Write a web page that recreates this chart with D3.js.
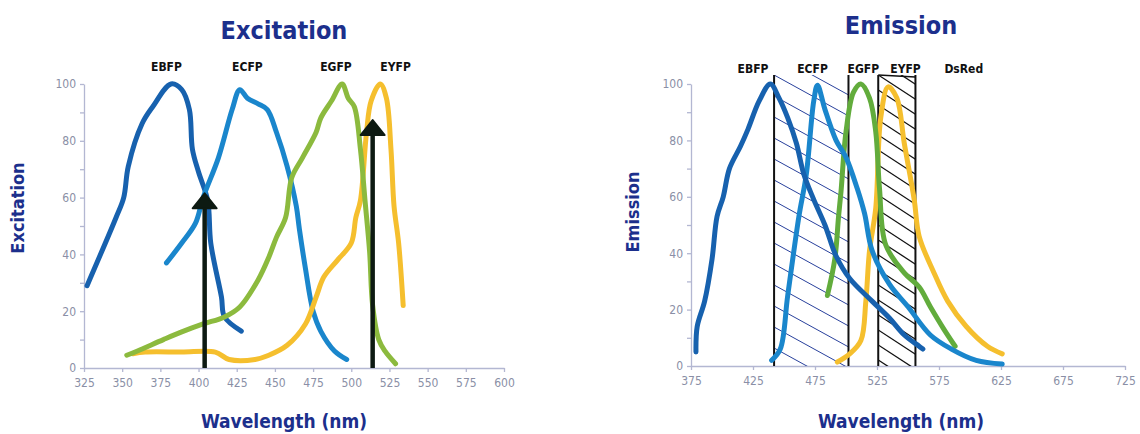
<!DOCTYPE html>
<html>
<head>
<meta charset="utf-8">
<script src="https://cdn.jsdelivr.net/npm/d3@7"></script>
<style>
  body { margin: 0; background: #fff; }
  svg { display: block; }
  .ttl { font-family: "Liberation Sans Narrow", "Arial Narrow", "DejaVu Sans Condensed", sans-serif; font-weight: bold; fill: #1c2f8c; }
  .tick text { font-family: "Liberation Sans Narrow", "DejaVu Sans Condensed", sans-serif; fill: #8a8fa6; font-size: 12px; }
  .tick line, .domain { stroke: #b3b7d2; stroke-width: 1.3; }
  .lbl { font-family: "Liberation Sans Narrow", "DejaVu Sans Condensed", sans-serif; font-weight: bold; font-size: 12px; fill: #111; }
</style>
</head>
<body>
<script>
// donnees : [longueur d'onde nm, valeur %]
const exEBFP = [[327,29],[346,53],[351,60],[354,71],[363,86],[370,92],[382,100],[389,98],[394,91],[396,77],[400,69],[406,59],[408,44],[415,25],[417,18],[428,13]];
const exECFP = [[379,37],[389,44],[398,51],[403,60],[413,74],[422,91],[427,98],[432,95],[439,93],[445,91],[451,83],[458,71],[464,57],[466,49],[470,35],[475,20],[480,13],[489,6],[497,3]];
const exEGFP = [[353,4.5],[360,6],[377,10],[389,12.7],[403,15.5],[417,18],[427,21.5],[439,31],[446,39],[451,46],[457,53],[461,67],[468,74],[477,83],[480,88],[487,94],[494,100],[498,95],[502,92],[506,77],[509,59],[512,41],[514,22],[518,10],[522,6],[529,1.5]];
const exEYFP = [[357,5],[365,5.6],[389,5.6],[411,5.6],[420,3],[437,3],[446,4.5],[458,8],[470,15.5],[477,25],[482,32],[491,38],[500,44],[503,53],[506,59],[510,83],[513,94],[519,100],[523,95],[526,77],[528,57],[531,44],[534,22]];

const emEBFP = [[379,5],[380,14],[386,23],[392,38],[396,53],[401,60],[406,70],[415,78],[421,84],[430,94],[439,100],[446,95],[453,88],[460,79],[466,68],[474,59],[483,50],[492,39],[503,31],[521,23],[535,17],[547,11],[559,7],[562,6]];
const emECFP = [[440,2],[447,6],[453,25],[462,53],[468,68],[474,94],[477,99.6],[483,91],[492,80],[500,74],[509,63],[515,54],[521,41],[535,29],[550,21],[568,11],[585,6],[605,2],[626,0.7]];
const emEGFP = [[485,25],[491,38],[494,53],[496,62],[500,83],[506,97],[512,100],[519,95],[524,83],[527,63],[532,43],[547,33],[559,28],[568,21],[579,13],[588,7]];
const emEYFP = [[493,1.4],[503,4.3],[512,9],[516,23],[519,41],[524,56],[528,88],[534,99],[541,95],[547,79],[555,59],[559,46],[571,33],[582,23],[597,14],[614,7],[626,4.3]];

const exArrows = [[404, 61.5], [514, 87.3]]; // fleches noires (nm, pointe)
const emBands = [[442, 502], [526, 556]];     // zones hachurees (nm)

const exLabels = ["EBFP", "ECFP", "EGFP", "EYFP"];
const exLabelNm = [379, 432, 490, 529];
const emLabels = ["EBFP", "ECFP", "EGFP", "EYFP", "DsRed"];
const emLabelNm = [425, 473, 514, 548, 595];

const exTicks = d3.range(325, 601, 25);
const emTicks = d3.range(375, 726, 50);
const yTicks = d3.range(0, 101, 10);

const colEBFP = "#1761ae", colECFP = "#1a86cc", colEGFPex = "#8cba3e", colEGFPem = "#62ac3c", colEYFP = "#f5bf2e";

//////////////////////////////////////////////////////////////////////////////
const svg = d3.select("body").append("svg")
  .attr("width", 1140)
  .attr("height", 434);

function drawPanel(opt) {
  const x = d3.scaleLinear().domain(opt.xDomain).range(opt.xRange);
  const y = d3.scaleLinear().domain([0, 100]).range(opt.yRange);
  const g = svg.append("g");

  // axes
  g.append("g")
    .attr("transform", `translate(0,${y(0)})`)
    .call(d3.axisBottom(x).tickValues(opt.xTicks).tickSize(4).tickSizeOuter(0).tickPadding(6));
  g.append("g")
    .attr("transform", `translate(${x(opt.xDomain[0])},0)`)
    .call(d3.axisLeft(y).tickValues(yTicks).tickSize(4).tickSizeOuter(0).tickPadding(4)
      .tickFormat(d => d % 20 === 0 ? d : ""));

  opt.extra && opt.extra(g, x, y);

  const line = d3.line()
    .x(d => x(d[0]))
    .y(d => y(d[1]))
    .curve(d3.curveCatmullRom.alpha(0.5));

  opt.series.forEach(s => {
    g.append("path")
      .datum(s.data)
      .attr("d", line)
      .attr("fill", "none")
      .attr("stroke", s.color)
      .attr("stroke-width", 5)
      .attr("stroke-linecap", "round")
      .attr("stroke-linejoin", "round");
  });

  opt.after && opt.after(g, x, y);

  // noms des proteines
  g.selectAll(".lbl")
    .data(opt.labels)
    .enter()
    .append("text")
    .attr("class", "lbl")
    .attr("x", (d, i) => x(opt.labelNm[i]))
    .attr("y", opt.labelY)
    .attr("text-anchor", "middle")
    .text(d => d);

  // titres
  g.append("text").attr("class", "ttl")
    .attr("x", opt.titleX).attr("y", opt.titleY)
    .attr("text-anchor", "middle").attr("font-size", 25)
    .text(opt.title);
  g.append("text").attr("class", "ttl")
    .attr("x", opt.titleX).attr("y", opt.xTitleY)
    .attr("text-anchor", "middle").attr("font-size", 19)
    .text("Wavelength (nm)");
  g.append("text").attr("class", "ttl")
    .attr("transform", `translate(${opt.yTitleX},${opt.yTitleY}) rotate(-90)`)
    .attr("text-anchor", "middle").attr("font-size", 18)
    .text(opt.title);
}

// EXCITATION
drawPanel({
  xDomain: [325, 600], xRange: [84, 504], yRange: [368, 84],
  xTicks: exTicks,
  series: [
    {data: exEBFP, color: colEBFP},
    {data: exECFP, color: colECFP},
    {data: exEYFP, color: colEYFP},
    {data: exEGFP, color: colEGFPex}
  ],
  after: (g, x, y) => {
    exArrows.forEach(a => {
      const ax = x(a[0]), tip = y(a[1]);
      g.append("line")
        .attr("x1", ax).attr("x2", ax)
        .attr("y1", y(0)).attr("y2", tip + 10)
        .attr("stroke", "#0d1a12").attr("stroke-width", 4.5);
      g.append("path")
        .attr("d", `M${ax},${tip} L${ax + 12},${tip + 15} L${ax - 12},${tip + 15} Z`)
        .attr("fill", "#0d1a12")
        .attr("stroke", "#0d1a12").attr("stroke-width", 2).attr("stroke-linejoin", "round");
    });
  },
  labels: exLabels, labelNm: exLabelNm, labelY: 71,
  title: "Excitation", titleX: 284, titleY: 39, xTitleY: 428, yTitleX: 24, yTitleY: 208
});

// EMISSION
drawPanel({
  xDomain: [375, 725], xRange: [691, 1125], yRange: [366, 84],
  xTicks: emTicks,
  extra: (g, x, y) => {
    const top = 75;
    emBands.forEach((b, i) => {
      const x0 = x(b[0]), x1 = x(b[1]);
      const id = "clipBand" + i;
      svg.append("clipPath").attr("id", id)
        .append("rect").attr("x", x0).attr("y", top).attr("width", x1 - x0).attr("height", y(0) - top);
      const sp = i === 0 ? 21 : 15;
      const slope = i === 0 ? 0.55 : 0.65;
      const hatch = g.append("g").attr("clip-path", `url(#${id})`);
      d3.range(-6, 20).forEach(k => {
        hatch.append("line")
          .attr("x1", x0).attr("y1", top + k * sp)
          .attr("x2", x1).attr("y2", top + k * sp + slope * (x1 - x0))
          .attr("stroke", i === 0 ? "#28409c" : "#111")
          .attr("stroke-width", i === 0 ? 1 : 1.3);
      });
      [x0, x1].forEach(xx => {
        g.append("line")
          .attr("x1", xx).attr("x2", xx).attr("y1", top).attr("y2", y(0))
          .attr("stroke", "#111").attr("stroke-width", 2);
      });
      if (i === 1) {
        g.append("line").attr("x1", x0).attr("x2", x1).attr("y1", top).attr("y2", top + 2)
          .attr("stroke", "#111").attr("stroke-width", 1.5);
      }
    });
  },
  series: [
    {data: emEYFP, color: colEYFP},
    {data: emEGFP, color: colEGFPem},
    {data: emECFP, color: colECFP},
    {data: emEBFP, color: colEBFP}
  ],
  labels: emLabels, labelNm: emLabelNm, labelY: 73,
  title: "Emission", titleX: 901, titleY: 34, xTitleY: 428, yTitleX: 639, yTitleY: 212
});
</script>
</body>
</html>
